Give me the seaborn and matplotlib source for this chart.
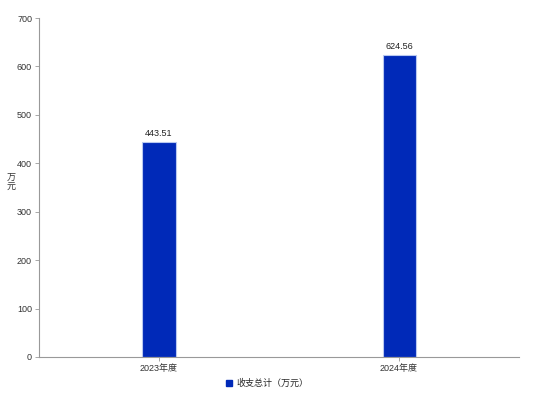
import matplotlib
matplotlib.use("Agg")
import matplotlib.pyplot as plt
import seaborn as sns
import pandas as pd
from matplotlib.patches import Patch

categories = ["2023年度", "2024年度"]
values = [443.51, 624.56]
series_name = "收支总计（万元）"
y_ticks = [0, 100, 200, 300, 400, 500, 600, 700]

sns.set_theme(style="white")
plt.rcParams['font.family'] = ['Liberation Sans', 'Noto Sans CJK SC', 'DejaVu Sans']

df = pd.DataFrame({"cat": categories, "val": values, "series": series_name})

fig = plt.figure(figsize=(5.34, 4.0), dpi=100)
ax = fig.add_axes([0.073, 0.1075, 0.899, 0.8475])

sns.barplot(data=df, x="cat", y="val", hue="series", palette=["#0029B8"], saturation=1,
            width=0.1375, edgecolor="#b8c8f0", linewidth=0.8, ax=ax, legend=False)

for i, v in enumerate(values):
    ax.text(i, v + 8, f"{v:.2f}", ha="center", va="bottom", fontsize=6.5, color="#222222")

ax.set_xlim(-0.5, 1.5)
ax.set_ylim(0, 700)
ax.set_yticks(y_ticks)
ax.tick_params(axis="both", labelsize=6.5, colors="#333333", length=3, width=0.6,
               left=True, bottom=True, color="#999999", pad=2)
ax.set_xlabel("")
ax.set_ylabel("")
for s in ["top", "right"]:
    ax.spines[s].set_visible(False)
for s in ["left", "bottom"]:
    ax.spines[s].set_color("#999999")
    ax.spines[s].set_linewidth(0.8)

fig.text(0.02, 0.543, "万\n元", ha="center", va="center", fontsize=6.5,
         color="#333333", linespacing=1.0)

handles = [Patch(facecolor="#0029B8", edgecolor="#0029B8", label=series_name)]
fig.legend(handles=handles, loc="center", bbox_to_anchor=(0.5, 0.042), frameon=False,
           fontsize=6.5, handlelength=0.7, handleheight=0.7, handletextpad=0.4)

fig.savefig("out.png", dpi=100)
